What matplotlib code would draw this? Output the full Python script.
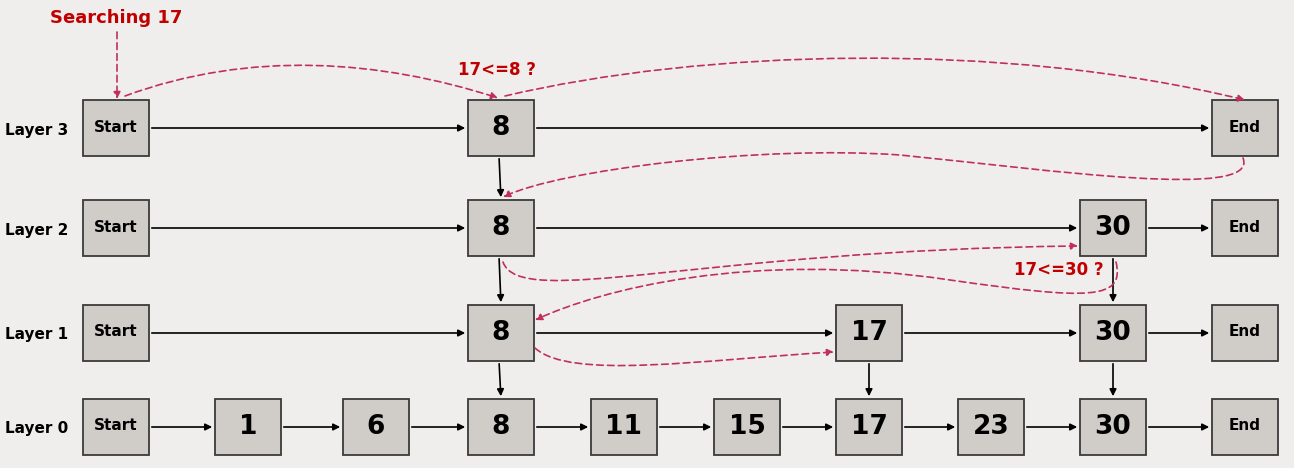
import matplotlib
matplotlib.use("Agg")
import matplotlib.pyplot as plt
from matplotlib.patches import Rectangle, FancyArrowPatch
from matplotlib.path import Path

# data
layer_names = ["Layer 3", "Layer 2", "Layer 1", "Layer 0"]
layer3 = ["Start", 8, "End"]
layer2 = ["Start", 8, 30, "End"]
layer1 = ["Start", 8, 17, 30, "End"]
layer0 = ["Start", 1, 6, 8, 11, 15, 17, 23, 30, "End"]
layers = [layer3, layer2, layer1, layer0]
search_label = "Searching 17"
cmp_labels = ["17<=8 ?", "17<=30 ?"]

col_x = {"Start": 116, 1: 248, 6: 376, 8: 501, 11: 624, 15: 747, 17: 869, 23: 991, 30: 1113, "End": 1245}
row_y = [128, 228, 333, 427]
W, H = 66, 56
RED = "#c0305a"
TXTRED = "#c00000"

fig = plt.figure(figsize=(12.94, 4.68), dpi=100)
fig.patch.set_facecolor("#f0eeec")
ax = fig.add_axes([0, 0, 1, 1])
ax.set_xlim(0, 1294); ax.set_ylim(468, 0); ax.axis("off")

for r, (name, nodes) in enumerate(zip(layer_names, layers)):
    y = row_y[r]
    ax.text(5, y + 2, name, fontsize=11, fontweight="bold", va="center", ha="left")
    for i, n in enumerate(nodes):
        x = col_x[n]
        ax.add_patch(Rectangle((x - W/2, y - H/2), W, H, facecolor="#d0ccc8", edgecolor="#3a3a3a", lw=1.3, zorder=2))
        if isinstance(n, str):
            ax.text(x, y - 1, n, fontsize=11, fontweight="bold", ha="center", va="center", zorder=3)
        else:
            ax.text(x, y, str(n), fontsize=19, fontweight="bold", ha="center", va="center", zorder=3)
        if i + 1 < len(nodes):
            x2 = col_x[nodes[i + 1]]
            ax.annotate("", xy=(x2 - W/2, y), xytext=(x + W/2, y),
                        arrowprops=dict(arrowstyle="-|>", color="black", lw=1.2, mutation_scale=10))
    if r + 1 < len(layers):
        for n in nodes:
            if n in layers[r + 1] and n not in ("Start", "End"):
                x = col_x[n]
                ax.annotate("", xy=(x, row_y[r + 1] - H/2), xytext=(x - 2 if n == 8 else x, y + H/2),
                            arrowprops=dict(arrowstyle="-|>", color="black", lw=1.2, mutation_scale=10))

def curve(pts):
    codes = [Path.MOVETO] + [Path.CURVE4] * (len(pts) - 1)
    p = FancyArrowPatch(path=Path(pts, codes), arrowstyle="-|>", color=RED, lw=1.2,
                        linestyle=(0, (4, 2.5)), mutation_scale=10, zorder=4)
    ax.add_patch(p)

curve([(117, 32), (117, 55), (117, 75), (117, 99)])
curve([(125, 96), (250, 50), (380, 60), (498, 98)])
curve([(505, 96), (700, 50), (1000, 40), (1245, 100)])
curve([(1243, 158), (1260, 200), (1050, 170), (900, 155), (760, 145), (560, 170), (503, 197)])
curve([(503, 262), (520, 310), (700, 250), (1078, 246)])
curve([(1116, 262), (1125, 300), (1090, 300), (950, 280), (750, 250), (600, 290), (535, 320)])
curve([(535, 348), (570, 380), (700, 360), (834, 352)])

ax.text(50, 18, search_label, fontsize=13, fontweight="bold", color=TXTRED, va="center")
ax.text(458, 70, cmp_labels[0], fontsize=12, fontweight="bold", color=TXTRED, va="center")
ax.text(1014, 270, cmp_labels[1], fontsize=12, fontweight="bold", color=TXTRED, va="center")

fig.savefig("out.png", dpi=100, facecolor=fig.get_facecolor())
